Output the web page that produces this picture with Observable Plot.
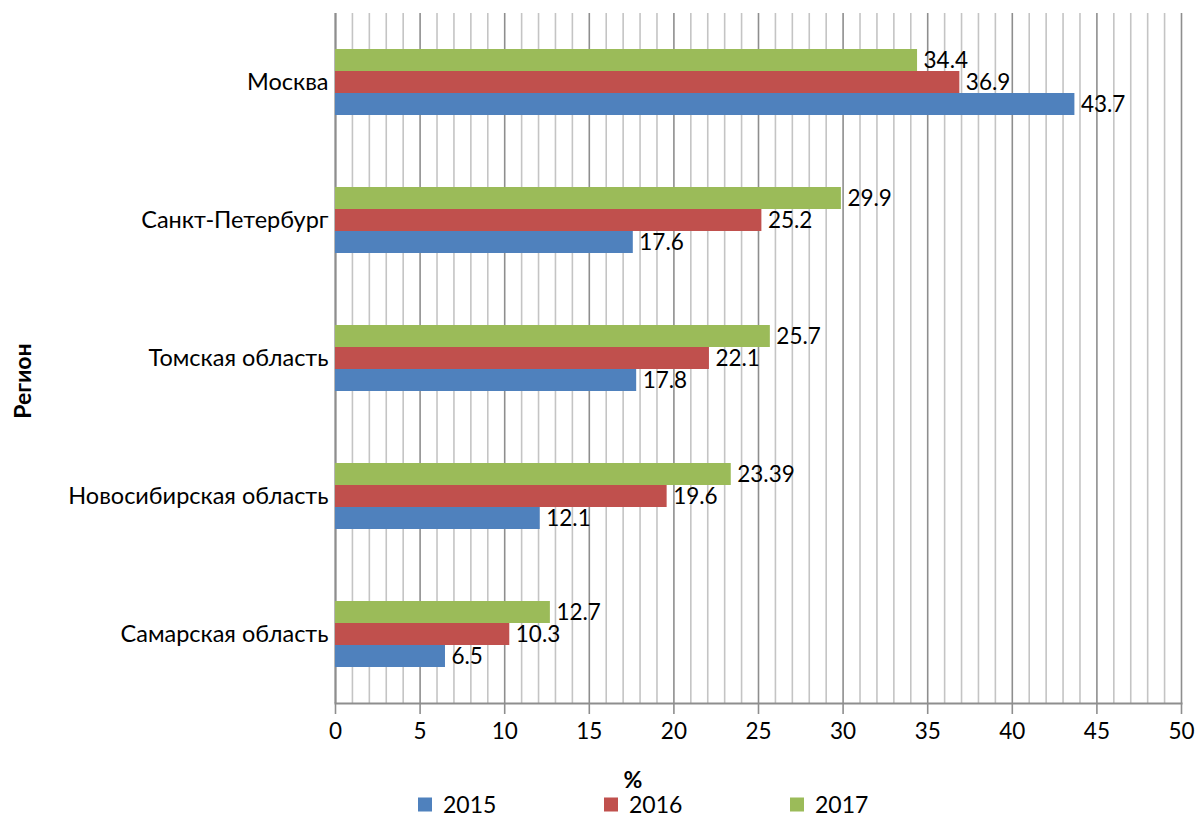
<!DOCTYPE html>
<html><head><meta charset="utf-8">
<script src="https://cdn.jsdelivr.net/npm/d3@7"></script>
<script src="https://cdn.jsdelivr.net/npm/@observablehq/plot@0.6"></script>
<style>
body{margin:0;background:#fff;font-family:Lato,sans-serif;}
#wrap{position:relative;width:1197px;height:816px;overflow:hidden;}
#wrap svg{display:block;}
.abs{position:absolute;color:#000;white-space:nowrap;line-height:1;}
.ytitle{left:22px;top:381px;font-weight:bold;font-size:23px;transform:translate(-50%,-50%) rotate(-90deg);}
.xtitle{left:633px;top:779px;font-weight:bold;font-size:23px;transform:translate(-50%,-50%);}
.leg{top:804px;font-size:23px;transform:translateY(-50%);display:flex;align-items:center;}
.leg span.sw{display:inline-block;width:14px;height:14px;margin-right:11px;}
</style></head><body><div id="wrap"></div>
<script>
const regions = ["Москва","Санкт-Петербург","Томская область","Новосибирская область","Самарская область"];
const years = ["2015","2016","2017"];
const v2015 = [43.7, 17.6, 17.8, 12.1, 6.5];
const v2016 = [36.9, 25.2, 22.1, 19.6, 10.3];
const v2017 = [34.4, 29.9, 25.7, 23.39, 12.7];
const colors = ["#4F81BD", "#C0504D", "#9BBB59"];
const xMajor = d3.range(0, 51, 5);
const xMinor = d3.range(0, 51, 1).filter(d => d % 5 !== 0);
const yTitle = "Регион";
const xTitle = "%";

const series = [v2015, v2016, v2017];
const data = regions.flatMap((r, i) => years.map((y, j) => ({region: r, year: y, value: series[j][i]})));

const chart = Plot.plot({
  width: 1197, height: 816,
  marginLeft: 335, marginRight: 16, marginTop: 12, marginBottom: 113,
  style: {fontFamily: "Lato, sans-serif", fontSize: "22px", color: "#000", background: "#fff"},
  x: {domain: [0, 50]},
  fy: {domain: regions, padding: 0, label: null},
  y: {domain: ["2017", "2016", "2015"], paddingInner: 0, paddingOuter: 1.53, axis: null},
  color: {domain: years, range: colors},
  marks: [
    Plot.ruleX(xMinor, {stroke: "#c4c4c4", strokeWidth: 1.6}),
    Plot.ruleX(xMajor, {stroke: "#8e8e8e", strokeWidth: 1.6}),
    Plot.ruleX([0], {stroke: "#8e8e8e", strokeWidth: 2}),
    Plot.frame({anchor: "bottom", facetAnchor: "bottom", stroke: "#8e8e8e", strokeWidth: 2}),
    Plot.barX(data, {fy: "region", y: "year", x: "value", fill: "year"}),
    Plot.text(data, {fy: "region", y: "year", x: "value", text: d => String(d.value), textAnchor: "start", dx: 6, fontSize: 22.5, fill: "#000"}),
    Plot.axisX({ticks: xMajor, tickSize: 11, tickPadding: 9, stroke: "#8e8e8e", strokeWidth: 1.6, fill: "#000", fontSize: 22.5, label: null}),
    Plot.axisFy({anchor: "left", tickSize: 0, tickPadding: 7, fontSize: 23.5, fill: "#000", label: null})
  ]
});
const wrap = document.getElementById("wrap");
wrap.appendChild(chart);

function addDiv(cls, txt) {
  const d = document.createElement("div");
  d.className = "abs " + cls;
  d.textContent = txt;
  wrap.appendChild(d);
  return d;
}
addDiv("ytitle", yTitle);
addDiv("xtitle", xTitle);
const legX = [418, 604, 790];
years.forEach((y, i) => {
  const d = document.createElement("div");
  d.className = "abs leg";
  d.style.left = legX[i] + "px";
  const sw = document.createElement("span");
  sw.className = "sw";
  sw.style.background = colors[i];
  d.appendChild(sw);
  d.appendChild(document.createTextNode(y));
  wrap.appendChild(d);
});
</script></body></html>
